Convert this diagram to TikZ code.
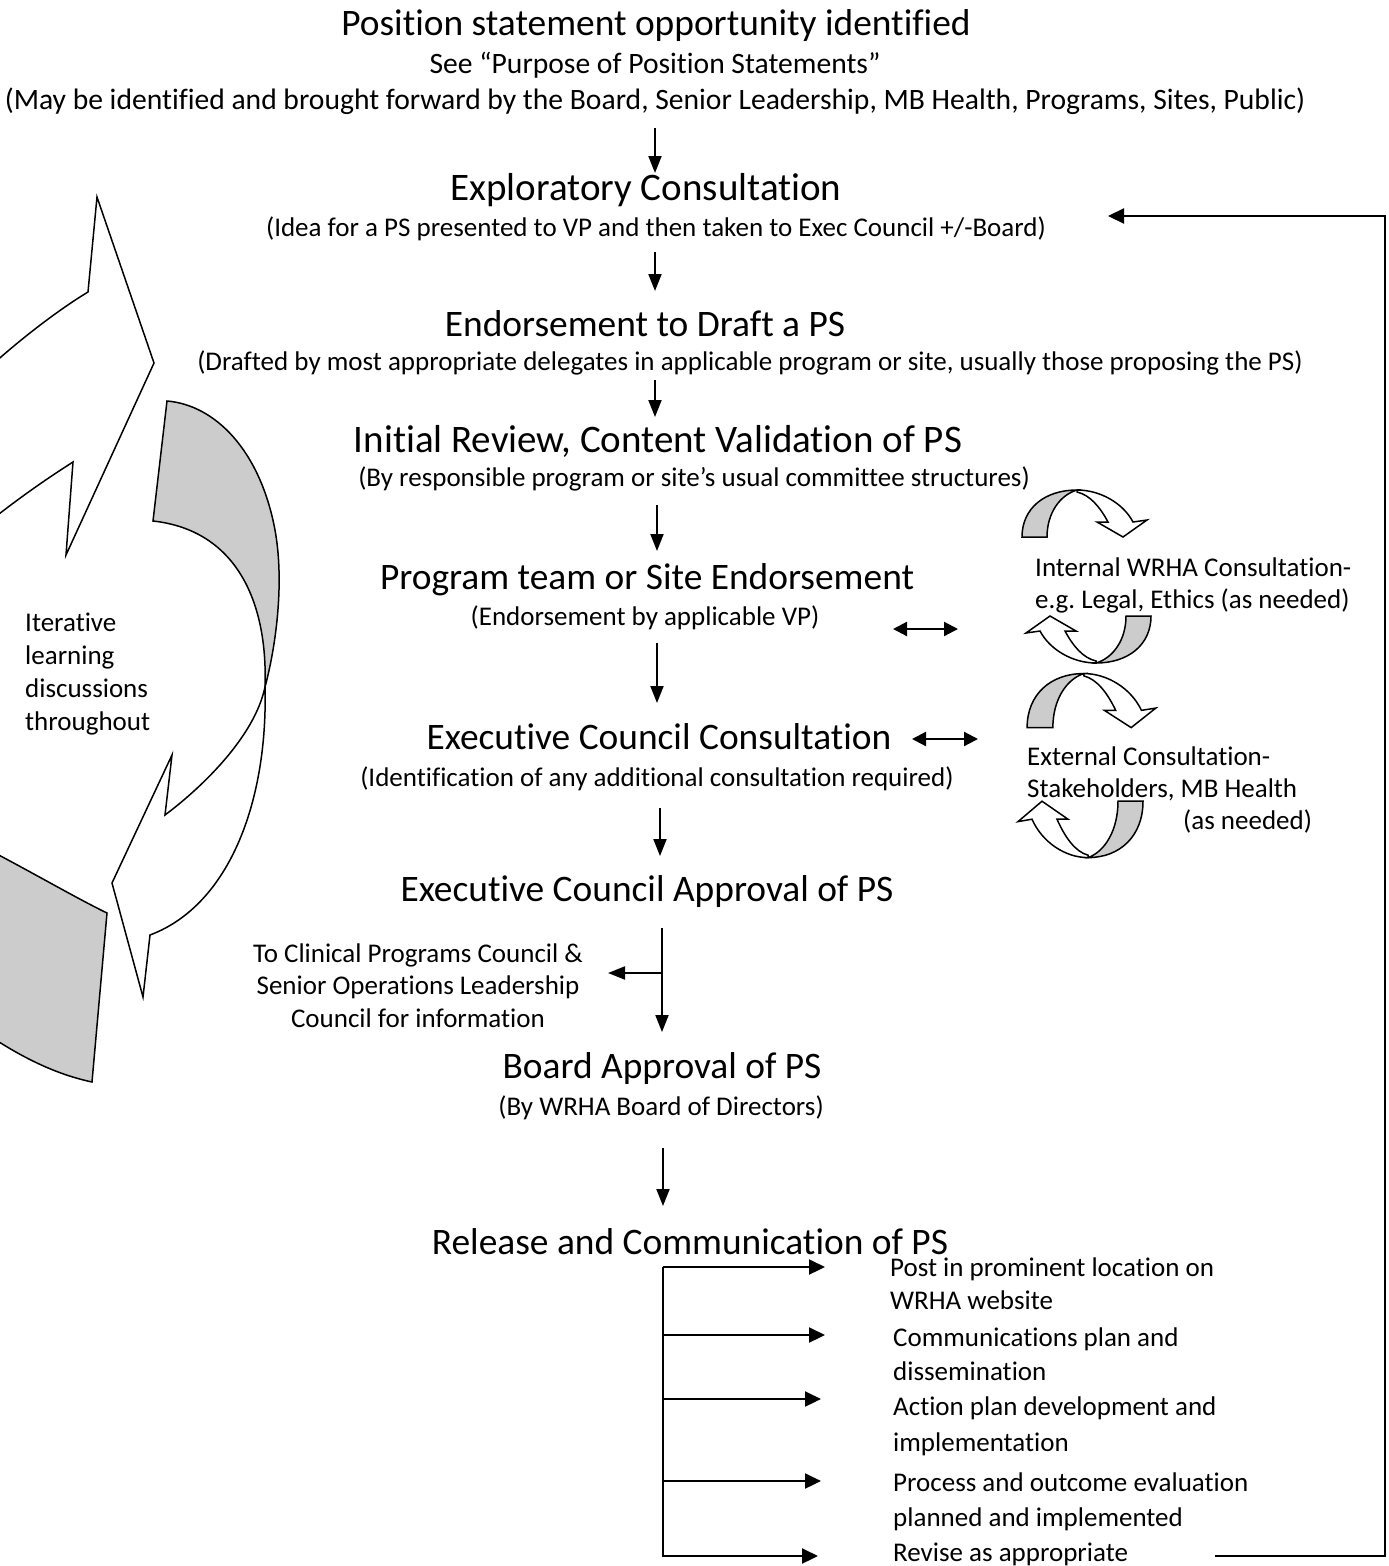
\documentclass[tikz,border=0pt]{standalone}
\usepackage{fontspec}
\setmainfont{Carlito}[Ligatures={NoCommon}]
\usetikzlibrary{arrows.meta}
\frenchspacing
\tikzset{
  head/.style={font=\fontsize{37.4}{44}\selectfont, anchor=base, inner sep=0pt},
  headl/.style={font=\fontsize{39}{46}\selectfont, anchor=base, inner sep=0pt},
  body/.style={font=\fontsize{27}{33}\selectfont, anchor=base, inner sep=0pt},
  bodyb/.style={font=\fontsize{29.6}{35}\selectfont, anchor=base, inner sep=0pt},
  bodyl/.style={body, anchor=base west},
  varr/.style={line width=2pt, -{Triangle[length=17pt,width=13pt]}},
  harr/.style={line width=2.2pt, -{Triangle[length=16pt,width=15pt]}},
  darr/.style={line width=2.2pt, {Triangle[length=14pt,width=14pt]}-{Triangle[length=14pt,width=14pt]}},
  cshape/.style={line width=1.5pt, line join=miter},
  curv/.pic={
    \draw[cshape, fill=white] (-8,-23) .. controls (15,-23) and (38,-10) .. (48,9)
      -- (62,7) -- (38,24) -- (12,9) -- (23,9) .. controls (15,-6) and (5,-18) .. (-8,-21) -- cycle;
    \draw[cshape, fill=gray!40] (-63,24) .. controls (-63,-5) and (-40,-23) .. (-8,-23)
      .. controls (-25,-18) and (-38,0) .. (-38,24) -- cycle;
  }
}
\begin{document}
\begin{tikzpicture}[x=1pt,y=-1pt]
\useasboundingbox (0,0) rectangle (1389,1566);

% ---- big circular arrows on the left ----
\begin{scope}
\clip (0,0) rectangle (1389,1566);
% band 1, gray back part
\draw[cshape, fill=gray!40] (167,401) .. controls (215,405) and (260,450) .. (275,530)
  .. controls (285,585) and (275,650) .. (265,687)
  .. controls (268,600) and (235,530) .. (153,521) -- cycle;
% band 1, white front part with head
\draw[cshape, fill=white] (265,687) .. controls (268,800) and (230,905) .. (150,935)
  -- (143,997) -- (112,883) -- (172,755) -- (165,815)
  .. controls (205,785) and (255,735) .. (265,687) -- cycle;
% band 2, white front part with head
\draw[cshape, fill=white] (-40,395) .. controls (0,355) and (50,315) .. (88,292)
  -- (97,197) -- (154,363) -- (66,555) -- (73,462)
  .. controls (45,480) and (15,500) .. (-40,545) -- cycle;
% band 2, gray back part
\draw[cshape, fill=gray!40] (-40,835) .. controls (20,865) and (70,895) .. (107,913)
  -- (92,1082) .. controls (60,1075) and (20,1060) .. (-40,1015) -- cycle;
\end{scope}

\node[bodyl] (it1) at (25,631) {Iterative};
\node[bodyl] (it2) at (25,664) {learning};
\node[bodyl] (it3) at (25,697) {discussions};
\node[bodyl] (it4) at (25,730) {throughout};

% ---- small curved arrows on the right ----
\pic at (1085,513) {curv};
\pic[rotate=180] at (1088,640) {curv};
\pic[xscale=1.03,yscale=1.15] at (1092,700) {curv};
\pic[rotate=180,yscale=1.2] at (1080,830) {curv};

% ---- main column ----
\node[head] (n1) at (656,35) {Position statement opportunity identified};
\node[bodyb] (n1a) at (655,73) {See “Purpose of Position Statements”};
\node[bodyb] (n1b) at (655,109) {(May be identified and brought forward by the Board, Senior Leadership, MB Health, Programs, Sites, Public)};
\node[headl] (n2) at (646,200) {Exploratory Consultation};
\node[body] (n2a) at (656,236) {(Idea for a PS presented to VP and then taken to Exec Council +/-Board)};
\node[head] (n3) at (645,336) {Endorsement to Draft a PS};
\node[body] (n3a) at (750,370) {(Drafted by most appropriate delegates in applicable program or site, usually those proposing the PS)};
\node[headl] (n4) at (658,452) {Initial Review, Content Validation of PS};
\node[body] (n4a) at (694,486) {(By responsible program or site’s usual committee structures)};
\node[head] (n5) at (647,589) {Program team or Site Endorsement};
\node[body] (n5a) at (645,625) {(Endorsement by applicable VP)};
\node[head] (n6) at (659,749) {Executive Council Consultation};
\node[body] (n6a) at (657,786) {(Identification of any additional consultation required)};
\node[head] (n7) at (647,901) {Executive Council Approval of PS};
\node[body] (c1) at (418,962) {To Clinical Programs Council \&};
\node[body] (c2) at (418,994) {Senior Operations Leadership};
\node[body] (c3) at (418,1027) {Council for information};
\node[head] (n8) at (662,1078) {Board Approval of PS};
\node[body] (n8a) at (661,1115) {(By WRHA Board of Directors)};
\node[head] (n9) at (690,1254) {Release and Communication of PS};

% right side texts
\node[bodyl] (in1) at (1035,576) {Internal WRHA Consultation-};
\node[bodyl] (in2) at (1035,608) {e.g. Legal, Ethics (as needed)};
\node[bodyl] (ex1) at (1027,765) {External Consultation-};
\node[bodyl] (ex2) at (1027,797) {Stakeholders, MB Health};
\node[bodyl] (ex3) at (1183,829) {(as needed)};

% list
\node[bodyl] (l1a) at (890,1276) {Post in prominent location on};
\node[bodyl] (l1b) at (890,1309) {WRHA website};
\node[bodyl] (l2a) at (893,1346) {Communications plan and};
\node[bodyl] (l2b) at (893,1380) {dissemination};
\node[bodyl] (l3a) at (893,1415) {Action plan development and};
\node[bodyl] (l3b) at (893,1451) {implementation};
\node[bodyl] (l4a) at (893,1491) {Process and outcome evaluation};
\node[bodyl] (l4b) at (893,1526) {planned and implemented};
\node[bodyl] (l5) at (893,1561) {Revise as appropriate};

% ---- connectors ----
\coordinate (a1s) at (655,128);  \coordinate (a1e) at (655,173);
\coordinate (a2s) at (655,252);  \coordinate (a2e) at (655,291);
\coordinate (a3s) at (655,380);  \coordinate (a3e) at (655,417);
\coordinate (a4s) at (657,505);  \coordinate (a4e) at (657,551);
\coordinate (a5s) at (657,643);  \coordinate (a5e) at (657,703);
\coordinate (a6s) at (660,808);  \coordinate (a6e) at (660,856);
\coordinate (a7s) at (662,928);  \coordinate (a7e) at (662,1032);
\coordinate (a7b) at (662,973);  \coordinate (a7l) at (608,973);
\coordinate (a8s) at (663,1148); \coordinate (a8e) at (663,1206);
\draw[varr] (a1s) -- (a1e);
\draw[varr] (a2s) -- (a2e);
\draw[varr] (a3s) -- (a3e);
\draw[varr] (a4s) -- (a4e);
\draw[varr] (a5s) -- (a5e);
\draw[varr] (a6s) -- (a6e);
\draw[varr] (a7s) -- (a7e);
\draw[varr] (a7b) -- (a7l);
\draw[varr] (a8s) -- (a8e);

\coordinate (d1a) at (893,629); \coordinate (d1b) at (958,629);
\coordinate (d2a) at (912,739); \coordinate (d2b) at (978,739);
\draw[darr] (d1a) -- (d1b);
\draw[darr] (d2a) -- (d2b);

% bracket
\coordinate (bt) at (663,1267); \coordinate (bb) at (663,1557);
\draw[line width=2.2pt] (bt) -- (bb);
\draw[harr] (663,1267) -- (825,1267);
\draw[harr] (663,1335) -- (825,1335);
\draw[harr] (663,1399) -- (821,1399);
\draw[harr] (663,1481) -- (821,1481);
\draw[harr] (663,1556) -- (818,1556);

% feedback loop
\coordinate (fb0) at (1215,1556);
\coordinate (fb1) at (1385,1556);
\coordinate (fb2) at (1385,216);
\coordinate (fb3) at (1108,216);
\draw[harr] (fb0) -- (fb1) -- (fb2) -- (fb3);
\end{tikzpicture}
\end{document}
